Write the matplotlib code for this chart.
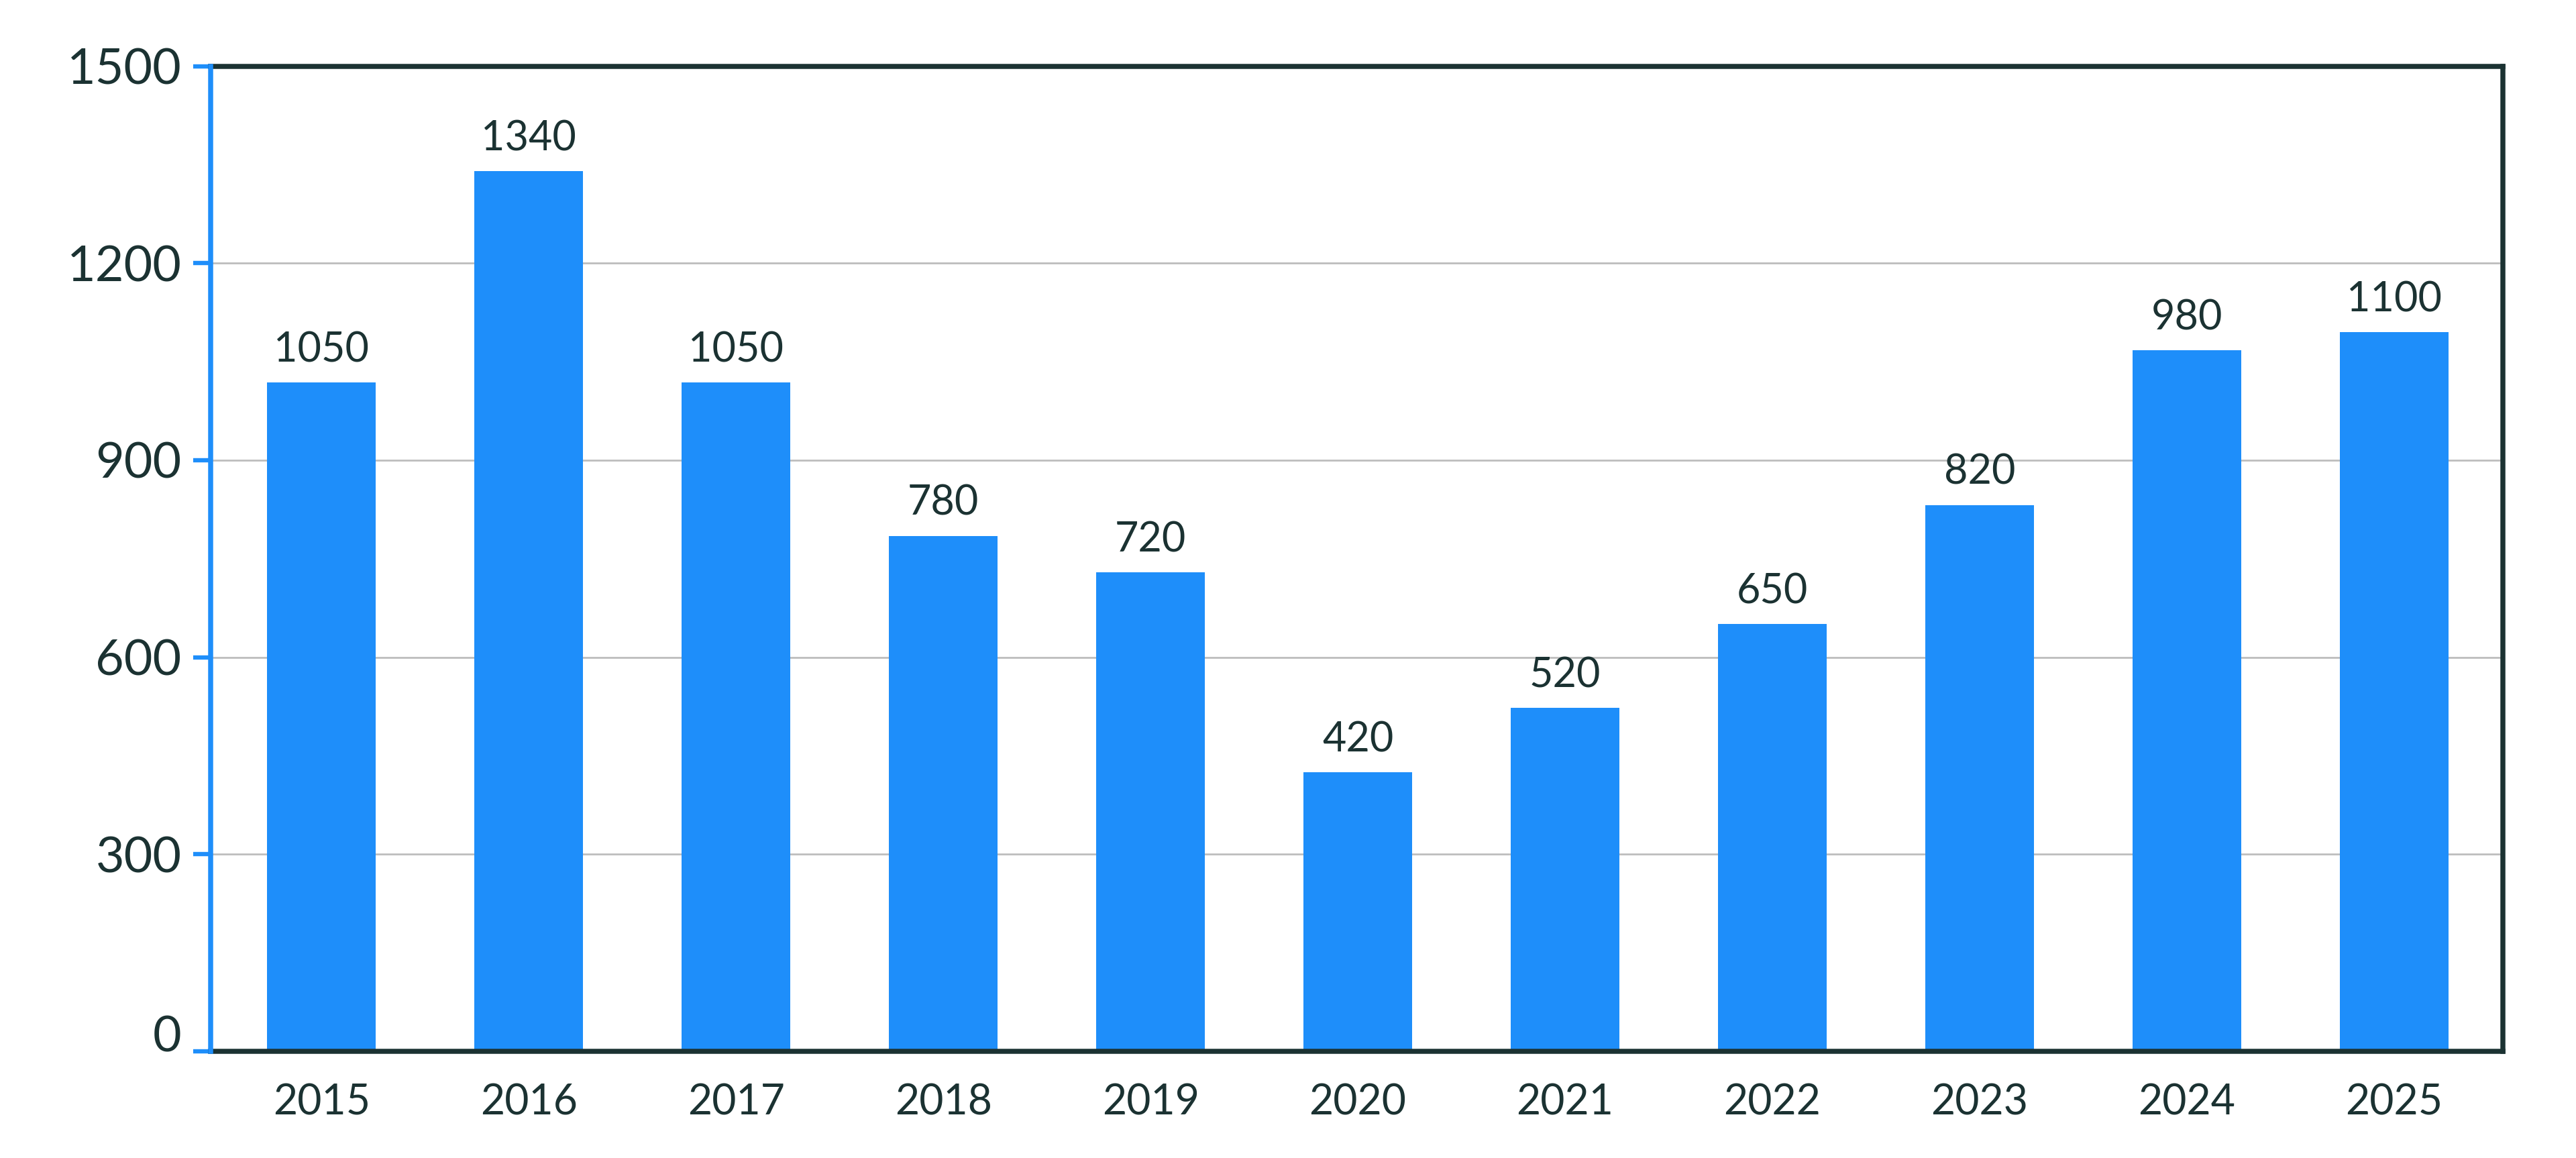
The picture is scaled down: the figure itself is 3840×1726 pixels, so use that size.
import matplotlib
matplotlib.use("Agg")
import matplotlib.pyplot as plt

years = ["2015", "2016", "2017", "2018", "2019", "2020", "2021", "2022", "2023", "2024", "2025"]
bar_values = [1018, 1340, 1018, 785, 729, 425, 523, 651, 832, 1067, 1095]
bar_labels = ["1050", "1340", "1050", "780", "720", "420", "520", "650", "820", "980", "1100"]
y_ticks = [0, 300, 600, 900, 1200, 1500]

BAR = "#1E8EFA"
DARK = "#1B3232"
GRID = "#BDBDBD"

plt.rcParams["font.family"] = ["Lato", "DejaVu Sans"]

fig = plt.figure(figsize=(19.2, 8.63), dpi=200)
ax = fig.add_axes([0.0818, 0.0921, 0.9716 - 0.0818, 0.9429 - 0.0921])

x = list(range(len(years)))
bars = ax.bar(x, bar_values, width=0.524, color=BAR, zorder=2)

for xi, v, lab in zip(x, bar_values, bar_labels):
    ax.annotate(lab, (xi, v), xytext=(0, 11), textcoords="offset points",
                ha="center", va="baseline", fontsize=22, color=DARK)

ax.set_xlim(-0.535, 10.525)
ax.set_ylim(0, 1500)
ax.set_yticks(y_ticks)
ax.set_yticklabels([str(t) for t in y_ticks])
ax.set_xticks(x)
ax.set_xticklabels(years)

ax.yaxis.grid(True, color=GRID, linewidth=1.0, zorder=0)
ax.set_axisbelow(True)

ax.tick_params(axis="y", length=9.2, width=2.3, color=BAR, labelsize=26.5,
               labelcolor=DARK, pad=6.5)
ax.tick_params(axis="x", length=0, labelsize=22.5, labelcolor=DARK, pad=17)

# the bottom "0" label sits just above the axis line in the reference
ax.get_yticklabels()[0].set_verticalalignment("baseline")

for side in ["top", "right", "bottom"]:
    ax.spines[side].set_color(DARK)
    ax.spines[side].set_linewidth(2.7)
ax.spines["left"].set_color(BAR)
ax.spines["left"].set_linewidth(2.7)
ax.spines["left"].set_zorder(5)

fig.savefig("out.png", dpi=200, facecolor="white")
